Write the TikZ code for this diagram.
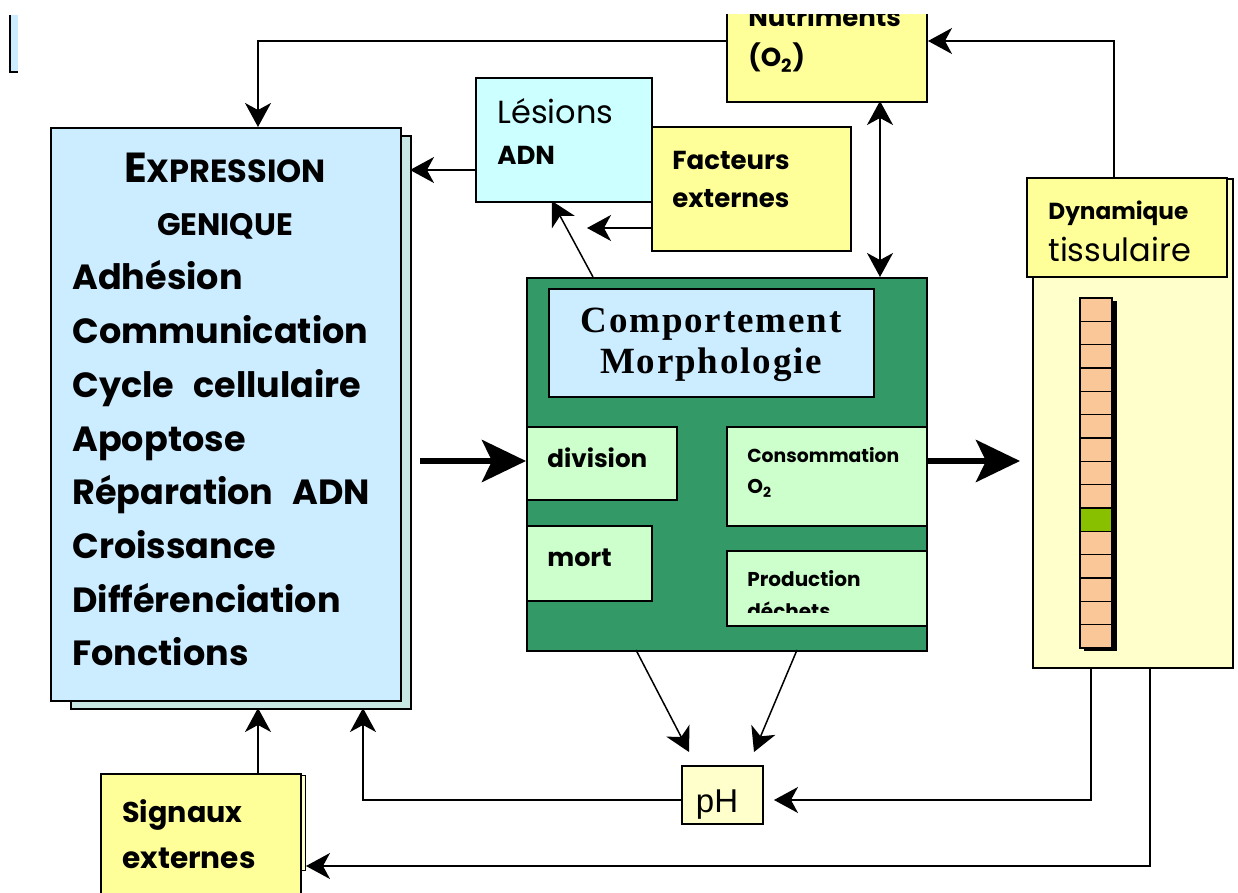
\documentclass[tikz,border=0pt]{standalone}
\usepackage{fontspec}
\setmainfont{Poppins}
\newfontfamily\serifsp[LetterSpace=5]{Liberation Serif}
\newfontfamily\arial{Liberation Sans}
\usetikzlibrary{arrows.meta,calc}
\newcommand\myfs[1]{\fontsize{#1}{#1}\selectfont}
\definecolor{lblue}{RGB}{204,236,255}
\definecolor{shteal}{RGB}{200,230,226}
\definecolor{lcyan}{RGB}{204,255,255}
\definecolor{yel}{RGB}{255,255,153}
\definecolor{pyel}{RGB}{255,255,204}
\definecolor{dgreen}{RGB}{51,153,102}
\definecolor{lgreen}{RGB}{204,255,204}
\definecolor{peach}{RGB}{250,200,152}
\definecolor{cellg}{RGB}{136,192,0}
\begin{document}
\begin{tikzpicture}[x=0.5pt,y=-0.5pt,
  box/.style={draw=black,line width=1pt,inner sep=0pt,anchor=north west},
  txt/.style={anchor=base west,inner sep=0pt,text=black},
  arr/.style={-{Stealth[length=12pt,width=13pt,inset=3.5pt]},line width=0.75pt},
  arrtwo/.style={{Stealth[length=12pt,width=13pt,inset=3.5pt]}-{Stealth[length=12pt,width=13pt,inset=3.5pt]},line width=0.75pt},
  bigarr/.style={-{Stealth[length=22pt,width=21pt,inset=5pt]},line width=3pt}]
\useasboundingbox (0,0) rectangle (1238,893);
\clip (0,15) rectangle (1238,893);
% small artifact
\fill[lblue] (10,15) rectangle (18,72);
\draw[line width=0.8pt] (10,15) -- (10,72) -- (18,72);
% Expression genique
\node[box,fill=shteal,minimum width=340*0.5pt,minimum height=573*0.5pt] (expsh) at (70,135) {};
\node[box,fill=lblue,minimum width=350*0.5pt,minimum height=573*0.5pt] (expr) at (50,127) {};
\node[txt,anchor=base] (t1) at (225,183) {\bfseries{\myfs{21}E}{\myfs{16}XPRESSION}};
\node[txt,anchor=base] (t2) at (225,236) {\bfseries\myfs{15.5}GENIQUE};
\foreach \w [count=\i from 0] in {Adhésion,Communication,Cycle cellulaire,Apoptose,Réparation ADN,Croissance,Différenciation,Fonctions}
  \node[txt] (l\i) at (72,{290+53.7*\i}) {\bfseries\myfs{17.5}\spaceskip=0.55em\w};
% Lesions
\node[box,fill=lcyan,minimum width=176*0.5pt,minimum height=124*0.5pt] (lesion) at (475,77) {};
\node[txt] (tl1) at (497,124) {\myfs{16}Lésions};
\node[txt] (tl2) at (497,165) {\bfseries\myfs{13}ADN};
% Facteurs externes
\node[box,fill=yel,minimum width=199*0.5pt,minimum height=124*0.5pt] (fact) at (651,126) {};
\node[txt] (tf1) at (672,170) {\bfseries\myfs{13}Facteurs};
\node[txt] (tf2) at (672,208) {\bfseries\myfs{13}externes};
% Nutriments
\node[box,fill=yel,minimum width=200*0.5pt,minimum height=121*0.5pt] (nutri) at (726,-20) {};
\node[txt] (tn1) at (748,27) {\bfseries\myfs{13}Nutriments};
\node[txt] (tn2) at (748,67) {\bfseries\myfs{13}(O\textsubscript{2})};
% Green block
\node[box,fill=dgreen,minimum width=400*0.5pt,minimum height=373*0.5pt] (green) at (526,277) {};
\node[box,fill=lblue,minimum width=325*0.5pt,minimum height=108*0.5pt] (comp) at (548,288) {};
\node[txt,anchor=base] (tc1) at (711,333) {\serifsp\bfseries\myfs{18.5}Comportement};
\node[txt,anchor=base] (tc2) at (711,374) {\serifsp\bfseries\myfs{18.5}Morphologie};
\node[box,fill=lgreen,minimum width=150*0.5pt,minimum height=73*0.5pt] (div) at (526,426) {};
\node[txt] (td) at (547,467) {\bfseries\myfs{12.3}division};
\node[box,fill=lgreen,minimum width=200*0.5pt,minimum height=99*0.5pt] (cons) at (726,426) {};
\node[txt] (tco1) at (747,462) {\bfseries\myfs{9.4}Consommation};
\node[txt] (tco2) at (747,494) {\bfseries\myfs{10}O\textsubscript{2}};
\node[box,fill=lgreen,minimum width=125*0.5pt,minimum height=75*0.5pt] (mort) at (526,525) {};
\node[txt] (tm) at (547,567) {\bfseries\myfs{12.7}mort};
\node[box,fill=lgreen,minimum width=200*0.5pt,minimum height=75*0.5pt] (prod) at (726,550) {};
\node[txt] (tp1) at (747,586) {\bfseries\myfs{10}Production};
\begin{scope}
\clip (726,550) rectangle (926,612);
\node[txt] (tp2) at (747,618) {\bfseries\myfs{10}déchets};
\end{scope}
% Dynamique tissulaire
\node[box,fill=pyel,minimum width=200*0.5pt,minimum height=489*0.5pt] (dynp) at (1032,178) {};
\node[box,fill=yel,minimum width=200*0.5pt,minimum height=99*0.5pt] (dynt) at (1026,177) {};
\node[txt] (tdy1) at (1048,220) {\bfseries\myfs{11.6}Dynamique};
\node[txt] (tdy2) at (1048,262) {\myfs{16}tissulaire};
\fill[black] (1084,301) rectangle (1117,651);
\foreach \i in {0,...,14}{
  \pgfmathsetmacro\ya{298+23.33*\i}
  \pgfmathsetmacro\yb{298+23.33*(\i+1)}
  \ifnum\i=9
    \draw[fill=cellg,line width=0.6pt] (1080,\ya) rectangle (1112,\yb);
  \else
    \draw[fill=peach,line width=0.6pt] (1080,\ya) rectangle (1112,\yb);
  \fi
}
% pH
\node[box,fill=pyel,minimum width=81*0.5pt,minimum height=58*0.5pt] (ph) at (681,765) {};
\node[txt,anchor=base] (tph) at (717,812) {\arial\myfs{16.5}pH};
% Signaux externes
\node[box,fill=pyel,minimum width=200*0.5pt,minimum height=95*0.5pt,line width=0.6pt] (sigsh) at (105,775) {};
\node[box,fill=yel,minimum width=200*0.5pt,minimum height=140*0.5pt] (sig) at (100,773) {};
\node[txt] (ts1) at (122,822) {\bfseries\myfs{14.3}Signaux};
\node[txt] (ts2) at (122,868) {\bfseries\myfs{14.8}externes};
% coordinates
\coordinate (c1) at (258,41);
\coordinate (c2) at (1114,41);
\coordinate (lw) at (475,170);
\coordinate (lwt) at (410,170);
\coordinate (fw) at (651,228);
\coordinate (fwt) at (587,228);
\coordinate (ga) at (420,461);
\coordinate (gb) at (1020,461);
\coordinate (pha) at (689,752);
\coordinate (phb) at (754,752);
\coordinate (phr) at (774,800);
\coordinate (phl) at (681,800);
\coordinate (d1) at (1091,667);
\coordinate (d2) at (1150,667);
\coordinate (sr) at (306,866);
% connectors
\draw[arr] (nutri.west |- c1) -| (c1) -- (c1 |- expr.north);
\draw[arr] (c2 |- dynt.north) |- (nutri.east |- c2);
\draw[arrtwo] (880,101) -- (880,277);
\draw[arr] (lw) -- (lwt);
\draw[arr] (fw) -- (fwt);
\draw[arr] (593,277) -- (552,201);
\draw[bigarr] (ga) -- (green.west |- ga);
\draw[bigarr] (green.east |- gb) -- (gb);
\draw[arr] (636,650) -- (pha);
\draw[arr] (797,650) -- (phb);
\draw[arr] (d1) |- (phr);
\draw[arr] (d2) |- (sr);
\draw[arr] (phl) -| (363,708);
\draw[arr] (sig.north -| c1) -- (258,708);
\end{tikzpicture}
\end{document}
